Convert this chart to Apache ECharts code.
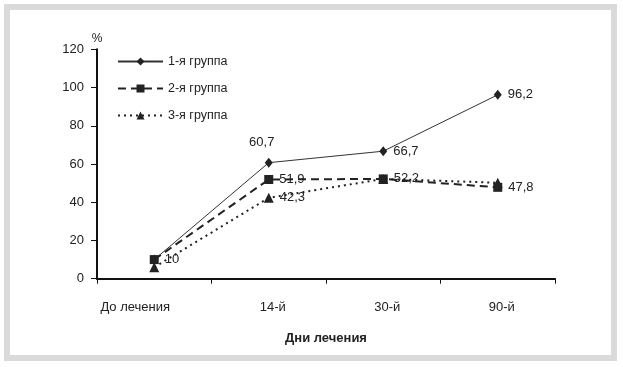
<!DOCTYPE html>
<html>
<head>
<meta charset="utf-8">
<script src="https://cdn.jsdelivr.net/npm/echarts@6/dist/echarts.min.js"></script>
<style>html,body{margin:0;padding:0;background:#fff}#c{width:623px;height:367px}</style>
</head>
<body>
<div id="c"></div>
<script>
var categories = ['До лечения', '14-й', '30-й', '90-й'];
var group1 = [10, 60.7, 66.7, 96.2];
var group2 = [10, 51.9, 52.2, 47.8];
var group3 = [6, 42.3, 52.2, 50.2];
var seriesNames = ['1-я группа', '2-я группа', '3-я группа'];
var yTicks = [0, 20, 40, 60, 80, 100, 120];

var FONT = '"Liberation Sans", Arial, sans-serif';
var INK = '#222';
function comma(v) { return String(v).replace('.', ','); }
function lbl(show, pos, offset) {
  return { show: show, position: pos || 'right', distance: 6, offset: offset || [0, 0],
    color: INK, fontFamily: FONT, fontSize: 13,
    formatter: function (p) { return comma(p.value); } };
}

var chart = echarts.init(document.getElementById('c'), null, { renderer: 'canvas' });
chart.setOption({
  animation: false,
  backgroundColor: '#fff',
  graphic: [{
    type: 'rect', shape: { x: 7, y: 7, width: 607, height: 351 },
    style: { fill: 'none', stroke: '#dadada', lineWidth: 6 }, silent: true
  }],
  grid: { left: 97, right: 68, top: 49.3, bottom: 88.3, containLabel: false },
  legend: {
    orient: 'vertical', left: 112, top: 50, itemWidth: 45, itemHeight: 10, itemGap: 14,
    textStyle: { color: INK, fontFamily: FONT, fontSize: 12.5 },
    data: seriesNames
  },
  xAxis: {
    type: 'category', data: categories, boundaryGap: true,
    name: 'Дни лечения', nameLocation: 'middle', nameGap: 53,
    nameTextStyle: { color: INK, fontFamily: FONT, fontSize: 13, fontWeight: 'bold' },
    axisLine: { lineStyle: { color: '#111', width: 2 } },
    axisTick: { show: true, interval: 0, length: 5, lineStyle: { color: '#111', width: 1 } },
    axisLabel: {
      interval: 0, margin: 22, color: INK, fontFamily: FONT, fontSize: 13,
      formatter: function (v, i) { return i === 0 ? '{a|' + v + '}' : '{b|' + v + '}'; },
      rich: {
        a: { padding: [0, 38, 0, 0], color: INK, fontFamily: FONT, fontSize: 13 },
        b: { padding: [0, 0, 0, 8], color: INK, fontFamily: FONT, fontSize: 13 }
      }
    }
  },
  yAxis: {
    type: 'value', min: yTicks[0], max: yTicks[yTicks.length - 1], interval: 20,
    name: '%', nameLocation: 'end', nameGap: 5,
    nameTextStyle: { color: INK, fontFamily: FONT, fontSize: 12, align: 'center', verticalAlign: 'bottom' },
    axisLine: { show: true, lineStyle: { color: '#111', width: 2 } },
    axisTick: { show: true, length: 6, lineStyle: { color: '#111', width: 1 } },
    axisLabel: { margin: 13, color: INK, fontFamily: FONT, fontSize: 13 },
    splitLine: { show: false }
  },
  series: [
    {
      name: seriesNames[2], type: 'line', z: 2,
      symbol: 'triangle', symbolSize: 10,
      lineStyle: { color: INK, width: 2, type: [2, 4] },
      itemStyle: { color: INK },
      data: group3.map(function (v, i) { return { value: v, label: lbl(i === 1) }; })
    },
    {
      name: seriesNames[1], type: 'line', z: 3,
      symbol: 'rect', symbolSize: 9,
      lineStyle: { color: INK, width: 2, type: [8, 5] },
      itemStyle: { color: INK },
      data: group2.map(function (v) { return { value: v, label: lbl(true) }; })
    },
    {
      name: seriesNames[0], type: 'line', z: 1,
      symbol: 'diamond', symbolSize: [8, 10],
      lineStyle: { color: '#333', width: 1 },
      itemStyle: { color: INK },
      data: group1.map(function (v, i) {
        if (i === 0) return { value: v, label: { show: false } };
        if (i === 1) return { value: v, label: lbl(true, 'top', [-7, -3]) };
        return { value: v, label: lbl(true, 'right') };
      })
    }
  ]
});
</script>
</body>
</html>
